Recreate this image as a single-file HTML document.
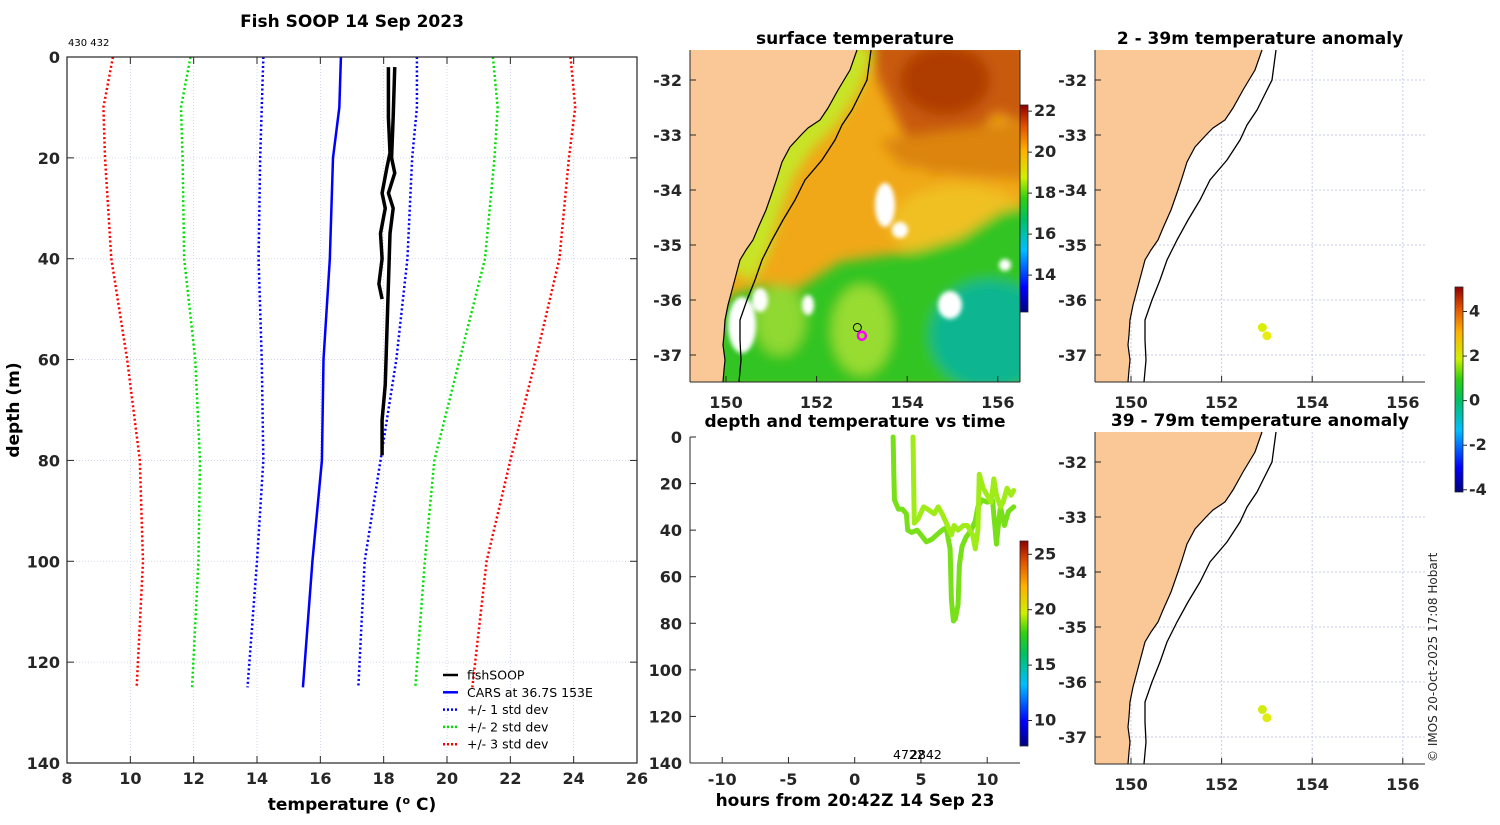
<!DOCTYPE html>
<html><head><meta charset="utf-8"><style>
body{margin:0;background:#fff}
svg text{font-family:"DejaVu Sans","Liberation Sans",sans-serif}
.tk{font-size:16px;font-weight:bold;fill:#262626}
.ttl{font-size:17px;font-weight:bold;fill:#000}
</style></head><body>
<svg id="s" width="1500" height="820" viewBox="0 0 1500 820" xmlns="http://www.w3.org/2000/svg">
<defs>
<linearGradient id="jet" x1="0" y1="1" x2="0" y2="0">
<stop offset="0" stop-color="#00007f"/><stop offset="0.12" stop-color="#0000ff"/><stop offset="0.3" stop-color="#00bfff"/><stop offset="0.45" stop-color="#00c060"/><stop offset="0.55" stop-color="#30d010"/><stop offset="0.65" stop-color="#d0f000"/><stop offset="0.78" stop-color="#ffb000"/><stop offset="0.9" stop-color="#e05000"/><stop offset="1" stop-color="#900000"/>
</linearGradient>
<filter id="bl" x="-20%" y="-20%" width="140%" height="140%"><feGaussianBlur stdDeviation="6"/></filter>
<filter id="bl2"><feGaussianBlur stdDeviation="2"/></filter>
<clipPath id="sstclip"><rect x="690" y="50" width="330" height="332"/></clipPath>
</defs>
<g id="main"></g>
<g id="maps"></g>
<text x="1437" y="762" transform="rotate(-90 1437 762)" font-size="12" fill="#262626">© IMOS 20-Oct-2025 17:08 Hobart</text>
</svg>
<script>
// ---- profile data ----
const depths=[0,10,20,40,60,80,100,125];
const carsMean=[16.65,16.6,16.4,16.3,16.1,16.05,15.75,15.45];
const plus1=[19.05,19.05,18.9,18.75,18.4,17.9,17.4,17.2];
const minus1=[14.2,14.15,14.1,14.05,14.15,14.2,14.0,13.7];
const plus2=[21.45,21.6,21.5,21.2,20.4,19.6,19.3,19.0];
const minus2=[11.9,11.6,11.65,11.7,12.05,12.2,12.15,11.95];
const plus3=[23.9,24.05,23.85,23.55,22.8,22.0,21.25,20.8];
const minus3=[9.45,9.15,9.2,9.4,9.9,10.3,10.4,10.2];
const cast1T=[18.15,18.15,18.2,18.1,17.95,18.05,17.9,17.95,17.85,17.95];
const cast1D=[2,12,19,22,27,30,35,40,45,48];
const cast2T=[18.35,18.3,18.25,18.35,18.15,18.3,18.2,18.15,18.1,18.05,17.95,17.95];
const cast2D=[2,12,20,23,27,30,35,45,55,65,72,79];
const xTicks=[8,10,12,14,16,18,20,22,24,26];
const yTicks=[0,20,40,60,80,100,120,140];
// ---- time series data ----
const tr1T=[2.9,2.95,3.0,3.3,3.6,3.9,4.0,4.3,4.7,5.0,5.4,5.8,6.2,6.6,6.9,7.2,7.3,7.45,7.6,7.8,7.9,8.1,8.4,8.8,9.1,9.3,9.6,10.0,10.4,10.7,10.8,11.0,11.3,11.6,12.0];
const tr1D=[0,15,27,31,31,33,40,41,40,42,45,44,42,40,39,48,70,79,78,72,55,47,43,40,36,30,27,28,27,46,40,30,38,32,30];
const tr2T=[4.4,4.45,4.5,4.8,5.2,5.5,6.0,6.3,6.6,7.0,7.3,7.5,7.8,8.2,8.5,8.9,9.1,9.3,9.4,9.7,10.0,10.3,10.5,10.7,11.0,11.2,11.5,11.8,12.0];
const tr2D=[0,20,37,35,30,31,33,30,33,38,42,38,40,38,38,42,48,40,16,22,25,28,18,25,30,28,22,25,23];
const tTicks=[-10,-5,0,5,10];
const dTicks=[0,20,40,60,80,100,120,140];
const lonTicks=[150,152,154,156];
const latTicks=[-32,-33,-34,-35,-36,-37];
const sstTicks=[14,16,18,20,22];
const tcTicks=[10,15,20,25];
const anomTicks=[-4,-2,0,2,4];
const obsLon=[152.9,153.0];
const obsLat=[-36.5,-36.65];

const NS='http://www.w3.org/2000/svg';
function mk(parent,tag,attrs,text){const e=document.createElementNS(NS,tag);for(const k in attrs)e.setAttribute(k,attrs[k]);if(text!==undefined)e.textContent=text;parent.appendChild(e);return e;}
const main=document.getElementById('main');
const X=t=>67+(t-8)*(570/18);
const Y=d=>57+d*(706/140);
xTicks.forEach(t=>{const l=mk(main,'line',{x1:X(t),x2:X(t),y1:57,y2:763,stroke:'#c8cde8','stroke-width':0.8,'stroke-dasharray':'1,2'});
});
yTicks.forEach(d=>{const l=mk(main,'line',{x1:67,x2:637,y1:Y(d),y2:Y(d),stroke:'#c8cde8','stroke-width':0.8,'stroke-dasharray':'1,2'});
});
function prof(temps,ds,color,dash,w,name){const p=mk(main,'polyline',{points:temps.map((t,i)=>X(t)+','+Y(ds[i])).join(' '),fill:'none',stroke:color,'stroke-width':w,'stroke-linejoin':'round'});
if(dash)p.setAttribute('stroke-dasharray',dash);
}
prof(minus3,depths,'#ff0000','2,2.5',2.5,'minus3-std-line');
prof(plus3,depths,'#ff0000','2,2.5',2.5,'plus3-std-line');
prof(minus2,depths,'#00e000','2,2.5',2.5,'minus2-std-line');
prof(plus2,depths,'#00e000','2,2.5',2.5,'plus2-std-line');
prof(minus1,depths,'#0000ff','2,2.5',2.5,'minus1-std-line');
prof(plus1,depths,'#0000ff','2,2.5',2.5,'plus1-std-line');
prof(carsMean,depths,'#0000ff',null,2.5,'cars-mean-line');
prof(cast1T,cast1D,'#000',null,3.5,'fishsoop-cast-1');
prof(cast2T,cast2D,'#000',null,3.5,'fishsoop-cast-2');
mk(main,'rect',{x:67,y:57,width:570,height:706,fill:'none',stroke:'#262626','stroke-width':1.2});
xTicks.forEach(t=>{mk(main,'line',{x1:X(t),x2:X(t),y1:763,y2:756,stroke:'#262626'});mk(main,'line',{x1:X(t),x2:X(t),y1:57,y2:64,stroke:'#262626'});
const e=mk(main,'text',{x:X(t),y:784,'text-anchor':'middle',class:'tk'},t);});
yTicks.forEach(d=>{mk(main,'line',{x1:67,x2:74,y1:Y(d),y2:Y(d),stroke:'#262626'});mk(main,'line',{x1:630,x2:637,y1:Y(d),y2:Y(d),stroke:'#262626'});
const e=mk(main,'text',{x:60,y:Y(d)+6,'text-anchor':'end',class:'tk'},d);});
let e;
e=mk(main,'text',{x:352,y:27,'text-anchor':'middle',class:'ttl'},'Fish SOOP 14 Sep 2023');
e=mk(main,'text',{x:68,y:46,'font-size':10,fill:'#000'},'430 432');
e=mk(main,'text',{x:352,y:810,'text-anchor':'middle',class:'ttl'});e.innerHTML='temperature (<tspan dy="-6" font-size="11">o</tspan><tspan dy="6"> C)</tspan>';
e=mk(main,'text',{x:19,y:410,'text-anchor':'middle',class:'ttl',transform:'rotate(-90 19 410)'},'depth (m)');
const leg=[['fishSOOP','#000',null],['CARS at 36.7S 153E','#0000ff',null],['+/- 1 std dev','#0000ff','2,2'],['+/- 2 std dev','#00e000','2,2'],['+/- 3 std dev','#ff0000','2,2']];
const lg=mk(main,'g',{});
leg.forEach((r,i)=>{const y=675+i*17.3;const l=mk(lg,'line',{x1:443,x2:458,y1:y,y2:y,stroke:r[1],'stroke-width':2.5});if(r[2])l.setAttribute('stroke-dasharray',r[2]);
const t=mk(lg,'text',{x:467,y:y+4.5,'font-size':12.5,fill:'#000'},r[0]);});

// ---- maps ----
const maps=document.getElementById('maps');
const coast=[[167,0],[160,20],[148,40],[138,58],[130,70],[118,78],[112,84],[100,97],[92,112],[87,128],[83,140],[76,160],[68,178],[63,190],[56,200],[50,210],[46,225],[42,240],[38,255],[35,270],[34,285],[33,295],[35,310],[34,320],[33,332]];
const iso=[[181,0],[179,15],[177,30],[168,48],[162,60],[152,75],[145,90],[132,110],[115,130],[105,150],[93,170],[82,190],[72,210],[65,230],[57,250],[50,270],[50,290],[51,310],[49,332]];
const landPts=c=>'0,0 '+c.map(p=>p[0]+','+p[1]).join(' ')+' 0,332';
function lonX(ox,lon){return ox+36+(lon-150)*45.3;}
function latY(oy,lat){return oy+30+(-32-lat)*55;}
function mapFrame(ox,oy,name,grid){
 const g=mk(maps,'g',{});
 if(grid){lonTicks.forEach(l=>mk(g,'line',{x1:lonX(ox,l),x2:lonX(ox,l),y1:oy,y2:oy+332,stroke:'#c8cde8','stroke-dasharray':'2,2'}));
 latTicks.forEach(l=>mk(g,'line',{x1:ox,x2:ox+330,y1:latY(oy,l),y2:latY(oy,l),stroke:'#c8cde8','stroke-dasharray':'2,2'}));}
 return g;}
function mapAxes(g,ox,oy){
 mk(g,'line',{x1:ox,x2:ox,y1:oy,y2:oy+332,stroke:'#262626'});
 mk(g,'line',{x1:ox,x2:ox+330,y1:oy+332,y2:oy+332,stroke:'#262626'});
 lonTicks.forEach(l=>{mk(g,'line',{x1:lonX(ox,l),x2:lonX(ox,l),y1:oy+332,y2:oy+326,stroke:'#262626'});
 const t=mk(g,'text',{x:lonX(ox,l),y:oy+358,'text-anchor':'middle',class:'tk'},l);});
 latTicks.forEach(l=>{mk(g,'line',{x1:ox,x2:ox+6,y1:latY(oy,l),y2:latY(oy,l),stroke:'#262626'});
 const t=mk(g,'text',{x:ox-8,y:latY(oy,l)+6,'text-anchor':'end',class:'tk'},l);});}
function coastDraw(g,ox,oy){
 mk(g,'polygon',{points:landPts(coast),fill:'#fac896',transform:`translate(${ox},${oy})`});
 mk(g,'polyline',{points:coast.map(p=>p[0]+','+p[1]).join(' '),fill:'none',stroke:'#000','stroke-width':1.2,transform:`translate(${ox},${oy})`});
 mk(g,'polyline',{points:iso.map(p=>p[0]+','+p[1]).join(' '),fill:'none',stroke:'#000','stroke-width':1.3,transform:`translate(${ox},${oy})`});}
function colorbar(x,y0,y1,ticks,vmin,vmax,name){
 const g=mk(maps,'g',{});
 mk(g,'rect',{x:x,y:y0,width:8,height:y1-y0,fill:'url(#jet)',stroke:'#262626','stroke-width':0.8});
 ticks.forEach(v=>{const y=y1-(v-vmin)/(vmax-vmin)*(y1-y0);mk(g,'line',{x1:x+8,x2:x+12,y1:y,y2:y,stroke:'#262626'});
 const t=mk(g,'text',{x:x+14,y:y+5,class:'tk','font-size':13},v);});}

// SST panel
const sst=mapFrame(690,50,'sst-map',false);
const field=mk(sst,'g',{'clip-path':'url(#sstclip)'});
mk(field,'rect',{x:690,y:50,width:330,height:332,fill:'#f0a818'});
const fb=mk(field,'g',{filter:'url(#bl)'});
mk(fb,'polygon',{points:'868,40 1030,40 1030,125 995,112 965,150 935,175 912,150 895,115 878,80',fill:'#c85a0c'});
mk(fb,'ellipse',{cx:945,cy:80,rx:45,ry:35,fill:'#b03c06'});
mk(fb,'polygon',{points:'880,140 1030,120 1030,180 960,175 900,165',fill:'#dc8410'});
mk(fb,'ellipse',{cx:960,cy:225,rx:70,ry:40,fill:'#f0c020'});
mk(fb,'polyline',{points:'860,45 845,85 825,115 800,140 780,170 765,210 755,245 740,275',fill:'none',stroke:'#c8e428','stroke-width':30});
mk(fb,'polygon',{points:'720,300 760,285 800,288 840,262 880,256 920,250 960,238 1000,212 1030,205 1030,390 710,390',fill:'#30c424'});
mk(fb,'ellipse',{cx:990,cy:335,rx:60,ry:55,fill:'#10b690'});
mk(fb,'ellipse',{cx:862,cy:330,rx:30,ry:45,fill:'#98dc30'});
mk(fb,'ellipse',{cx:780,cy:320,rx:25,ry:35,fill:'#90d830'});
const wb=mk(field,'g',{filter:'url(#bl2)',fill:'#fff'});
mk(wb,'ellipse',{cx:742,cy:325,rx:14,ry:28});mk(wb,'ellipse',{cx:760,cy:300,rx:8,ry:12});
mk(wb,'ellipse',{cx:885,cy:205,rx:10,ry:22});mk(wb,'ellipse',{cx:900,cy:230,rx:8,ry:8});
mk(wb,'ellipse',{cx:950,cy:305,rx:12,ry:14});mk(wb,'ellipse',{cx:808,cy:305,rx:6,ry:10});mk(wb,'ellipse',{cx:1005,cy:265,rx:6,ry:6});
coastDraw(sst,690,50);
mk(sst,'circle',{cx:lonX(690,obsLon[0]),cy:latY(50,obsLat[0]),r:4,fill:'none',stroke:'#000','stroke-width':1});
mk(sst,'circle',{cx:lonX(690,obsLon[1]),cy:latY(50,obsLat[1]),r:4,fill:'none',stroke:'#ff00ff','stroke-width':2.5});
mapAxes(sst,690,50);
mk(sst,'line',{x1:1020,x2:1020,y1:50,y2:382,stroke:'#262626'});
e=mk(maps,'text',{x:855,y:44,'text-anchor':'middle',class:'ttl'},'surface temperature');
colorbar(1020,105,312,sstTicks,12.2,22.3,'sst-colorbar');

// time panel
const tp=mk(maps,'g',{});
const TX=t=>854.7+t*13.25, TY=d=>437+d*(326/140);
[[tr1T,tr1D,'#78e018'],[tr2T,tr2D,'#a0ec18']].forEach((s,k)=>{const p=mk(tp,'polyline',{points:s[0].map((t,i)=>TX(t)+','+TY(s[1][i])).join(' '),fill:'none',stroke:s[2],'stroke-width':5,'stroke-linejoin':'round','stroke-linecap':'round'});
});
mk(tp,'line',{x1:690,x2:690,y1:437,y2:763,stroke:'#262626'});
mk(tp,'line',{x1:690,x2:1020,y1:763,y2:763,stroke:'#262626'});
tTicks.forEach(t=>{mk(tp,'line',{x1:TX(t),x2:TX(t),y1:763,y2:757,stroke:'#262626'});const q=mk(tp,'text',{x:TX(t),y:785,'text-anchor':'middle',class:'tk'},t);});
dTicks.forEach(d=>{mk(tp,'line',{x1:690,x2:696,y1:TY(d),y2:TY(d),stroke:'#262626'});const q=mk(tp,'text',{x:682,y:TY(d)+6,'text-anchor':'end',class:'tk'},d);});
e=mk(tp,'text',{x:893,y:759,'font-size':12.5,fill:'#000'},'4722');
e=mk(tp,'text',{x:910,y:759,'font-size':12.5,fill:'#000'},'2842');
e=mk(tp,'text',{x:855,y:427,'text-anchor':'middle',class:'ttl'},'depth and temperature vs time');
e=mk(tp,'text',{x:855,y:806,'text-anchor':'middle',class:'ttl'},'hours from 20:42Z 14 Sep 23');
colorbar(1020,541,746,tcTicks,7.7,26.2,'temp-colorbar');

// anomaly panels
[[1095,50,'2 - 39m temperature anomaly','#d8f000','#e8ec10','anom-map-shallow'],[1095,432,'39 - 79m temperature anomaly','#d0ec10','#e0ec10','anom-map-deep']].forEach(p=>{
 const g=mapFrame(p[0],p[1],p[5],true);coastDraw(g,p[0],p[1]);
 obsLon.forEach((lo,i)=>{const c=mk(g,'circle',{cx:lonX(p[0],lo),cy:latY(p[1],obsLat[i]),r:4.5,fill:i?p[4]:p[3]});});
 mapAxes(g,p[0],p[1]);
 const t=mk(maps,'text',{x:1260,y:p[1]-6,'text-anchor':'middle',class:'ttl'},p[2]);
});
colorbar(1455,287,492,anomTicks,-4.1,5.1,'anomaly-colorbar');
</script>
</body></html>
